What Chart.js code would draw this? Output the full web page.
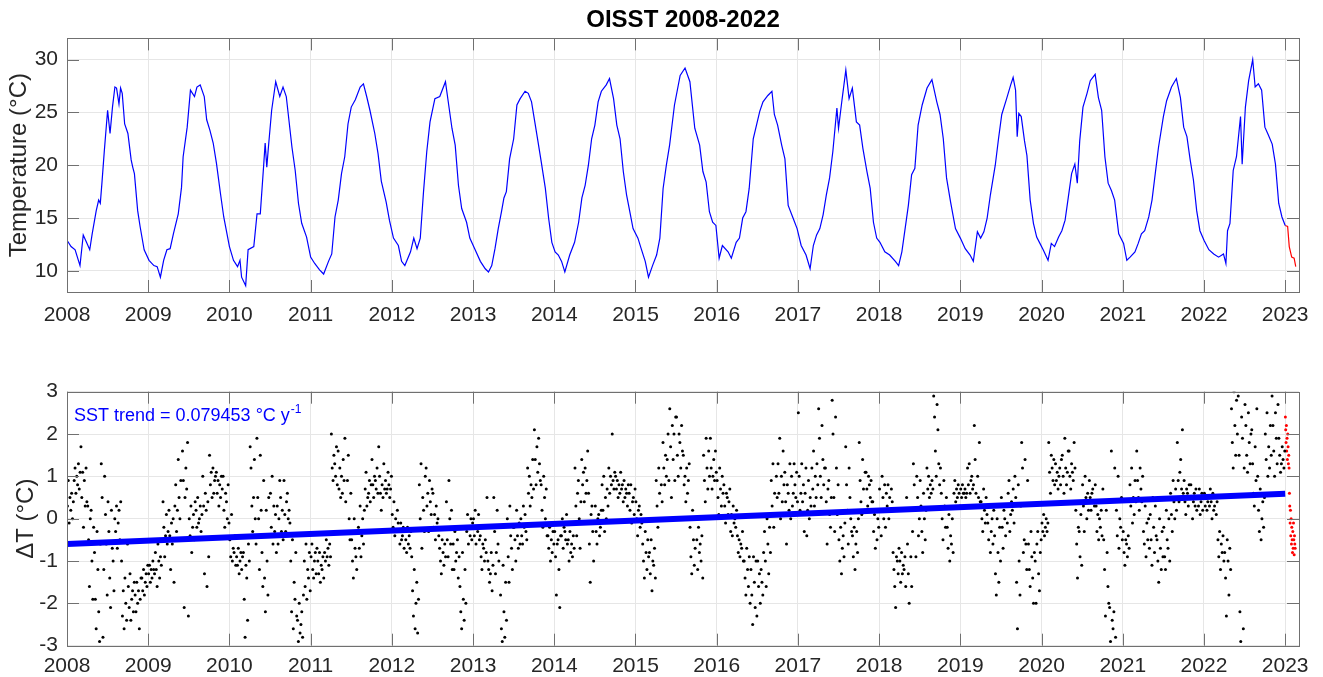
<!DOCTYPE html>
<html>
<head>
<meta charset="UTF-8">
<title>OISST 2008-2022</title>
<script src="https://cdn.jsdelivr.net/npm/chart.js@4.4.0/dist/chart.umd.min.js"></script>
<style>
body { margin: 0; background: #fff; }
.panel { position: absolute; left: 0; width: 1323px; }
#topPanel { top: 0; height: 330px; }
#bottomPanel { top: 370px; height: 307px; }
</style>
</head>
<body>
<!-- 위: 일별 수온 -->
<div class="panel" id="topPanel"><canvas id="sstChart" width="1323" height="330"></canvas></div>
<!-- 아래: 수온 편차 + 추세선 -->
<div class="panel" id="bottomPanel"><canvas id="anomChart" width="1323" height="307"></canvas></div>

<script>
// 눈금
const yearTicks = [2008, 2009, 2010, 2011, 2012, 2013, 2014, 2015, 2016, 2017, 2018, 2019, 2020, 2021, 2022, 2023];
const tempTicks = [10, 15, 20, 25, 30];
const anomTicks = [-3, -2, -1, 0, 1, 2, 3];

// 수온 (°C) - 시간(연 단위) / 값
const sstTime = [
  2008.00,2008.05,2008.10,2008.16,2008.20,2008.24,2008.28,2008.31,2008.36,2008.39,2008.41,2008.43,2008.46,2008.50,2008.53,2008.56,2008.59,2008.61,2008.64,2008.66,2008.68,2008.71,2008.75,2008.79,2008.81,2008.83,2008.87,2008.90,2008.95,
  2009.01,2009.07,2009.11,2009.15,2009.19,2009.23,2009.27,2009.31,2009.37,2009.41,2009.43,2009.48,2009.52,2009.57,2009.60,2009.64,2009.69,2009.72,2009.76,2009.80,2009.84,2009.89,2009.93,2009.97,
  2010.00,2010.05,2010.10,2010.13,2010.15,2010.20,2010.23,2010.30,2010.34,2010.38,2010.42,2010.44,2010.46,2010.48,2010.52,2010.57,2010.62,2010.66,2010.70,2010.77,2010.81,2010.85,2010.89,2010.95,
  2011.00,2011.05,2011.11,2011.16,2011.22,2011.26,2011.30,2011.34,2011.38,2011.42,2011.46,2011.50,2011.55,2011.61,2011.65,2011.69,2011.73,2011.79,2011.83,2011.87,2011.93,2011.97,
  2012.02,2012.08,2012.12,2012.16,2012.23,2012.27,2012.31,2012.35,2012.39,2012.43,2012.47,2012.53,2012.59,2012.66,2012.70,2012.74,2012.78,2012.82,2012.86,2012.92,2012.96,
  2013.02,2013.09,2013.15,2013.19,2013.23,2013.27,2013.31,2013.35,2013.38,2013.41,2013.45,2013.50,2013.54,2013.58,2013.64,2013.68,2013.72,2013.76,2013.80,2013.84,2013.89,2013.93,2013.97,
  2014.01,2014.05,2014.09,2014.13,2014.19,2014.25,2014.30,2014.34,2014.38,2014.42,2014.46,2014.50,2014.54,2014.58,2014.64,2014.68,2014.73,2014.77,2014.81,2014.85,2014.89,2014.93,2014.97,
  2015.03,2015.07,2015.12,2015.16,2015.21,2015.26,2015.30,2015.34,2015.38,2015.42,2015.48,2015.55,2015.61,2015.67,2015.73,2015.79,2015.83,2015.87,2015.91,2015.95,2015.99,
  2016.03,2016.07,2016.14,2016.18,2016.24,2016.28,2016.32,2016.36,2016.40,2016.45,2016.49,2016.53,2016.57,2016.63,2016.68,2016.71,2016.75,2016.80,2016.84,2016.88,2016.94,2016.99,
  2017.04,2017.10,2017.15,2017.19,2017.23,2017.27,2017.31,2017.35,2017.39,2017.43,2017.48,2017.50,2017.54,2017.59,2017.63,2017.67,2017.72,2017.76,2017.80,2017.85,2017.89,2017.93,2017.97,
  2018.01,2018.07,2018.13,2018.20,2018.24,2018.28,2018.32,2018.36,2018.40,2018.44,2018.48,2018.53,2018.59,2018.65,2018.71,2018.75,2018.79,2018.83,2018.88,2018.94,
  2019.00,2019.06,2019.12,2019.16,2019.21,2019.25,2019.29,2019.33,2019.37,2019.43,2019.47,2019.51,2019.57,2019.62,2019.65,2019.68,2019.70,2019.72,2019.75,2019.79,2019.82,2019.86,2019.90,2019.94,2019.98,
  2020.02,2020.08,2020.12,2020.16,2020.21,2020.25,2020.29,2020.33,2020.37,2020.41,2020.44,2020.47,2020.51,2020.56,2020.60,2020.66,2020.70,2020.74,2020.78,2020.82,2020.86,2020.90,2020.95,
  2021.01,2021.05,2021.09,2021.15,2021.19,2021.23,2021.27,2021.32,2021.36,2021.40,2021.44,2021.50,2021.54,2021.60,2021.66,2021.71,2021.75,2021.79,2021.83,2021.87,2021.91,2021.95,
  2022.00,2022.06,2022.12,2022.18,2022.24,2022.27,2022.29,2022.32,2022.36,2022.40,2022.45,2022.47,2022.51,2022.55,2022.60,2022.63,2022.67,2022.71,2022.75,2022.79,2022.84,2022.88,2022.92,2022.96,2023.00
];
const sstTemp = [
  12.9,12.3,12.0,10.5,13.4,12.7,12.0,13.5,15.7,16.7,16.4,18.3,21.4,25.2,23.0,25.5,27.4,27.3,25.8,27.3,26.8,23.9,23.0,20.5,19.8,19.2,15.7,14.2,12.0,
  11.0,10.5,10.4,9.4,11.0,12.0,12.1,13.5,15.4,17.9,20.8,23.6,27.1,26.5,27.4,27.6,26.5,24.3,23.3,22.1,20.2,17.3,15.1,13.5,
  12.3,11.0,10.4,11.0,9.4,8.6,12.0,12.3,15.4,15.4,19.8,22.1,19.8,21.7,25.2,27.9,26.5,27.4,26.5,21.7,19.5,16.4,14.5,13.2,
  11.3,10.7,10.1,9.7,10.9,11.6,15.1,16.7,19.2,20.8,23.9,25.5,26.2,27.4,27.7,26.5,25.2,23.0,21.1,18.5,16.5,14.8,
  13.1,12.4,10.9,10.5,11.8,13.1,12.1,13.1,17.5,21.3,24.1,26.3,26.5,27.9,25.7,23.5,21.9,18.1,15.9,14.6,13.1,
  12.1,10.9,10.2,9.9,10.5,12.1,14.0,15.6,16.9,17.5,20.6,22.5,25.7,26.3,27.0,26.8,26.0,24.1,22.2,20.3,17.8,15.0,12.7,
  11.8,11.5,10.9,9.9,11.5,12.7,14.6,16.9,18.1,20.0,22.5,23.8,26.0,27.0,27.6,28.2,26.3,23.8,22.5,19.4,17.2,15.6,14.0,
  13.1,12.1,10.9,9.4,10.5,11.5,13.1,17.8,20.0,21.9,25.7,28.5,29.2,27.9,23.5,21.9,19.4,18.4,15.6,14.6,14.3,
  11.2,12.4,11.8,11.2,12.7,13.1,15.0,15.6,17.8,22.5,23.8,25.1,26.0,26.6,27.0,24.8,23.8,21.9,20.6,16.2,15.0,14.0,
  12.4,11.5,10.2,12.4,13.4,14.0,15.3,17.2,18.8,21.3,25.4,23.5,26.0,29.0,26.3,27.3,24.1,23.8,21.6,19.4,17.8,14.6,13.1,
  12.7,11.8,11.5,10.9,10.5,11.8,14.0,16.2,19.1,19.7,23.8,25.7,27.3,28.1,26.0,24.8,22.5,18.8,16.5,14.0,
  13.1,12.1,11.5,10.9,13.7,13.1,13.7,15.0,17.2,20.0,22.5,24.8,26.3,27.6,28.3,27.1,22.7,24.9,24.6,22.3,20.9,16.7,14.5,13.2,12.6,
  12.0,11.0,12.6,12.3,13.2,13.8,14.8,17.0,19.2,20.1,18.3,22.3,25.5,26.8,28.0,28.6,26.4,25.2,20.8,18.3,17.6,16.7,13.5,
  12.6,11.0,11.3,11.8,12.6,13.5,13.8,15.1,16.7,19.2,21.7,24.6,26.1,27.4,28.2,26.4,23.6,22.7,20.5,18.6,15.7,13.8,
  12.9,12.0,11.6,11.3,11.6,10.7,13.8,14.5,19.5,20.8,24.6,20.1,25.5,28.0,30.0,27.4,27.7,27.1,23.6,22.9,22.0,20.1,16.4,15.1,14.3
];
// 2023년 (빨간색, 잠정값)
const sstRecentTime = [2023.00, 2023.03, 2023.05, 2023.08, 2023.11, 2023.13];
const sstRecentTemp = [14.3, 14.2, 12.3, 11.3, 11.2, 10.4];

// 수온 편차 ΔT (°C) - 연도별, 1년에 96개 (월 8개)
const samplesPerYear = 96;
const dT2008 = [0.3,0.9,-0.1,0.5,0.2,0.6,0.0,0.4, 0.9,1.2,0.6,1.0,0.8,1.3,0.7,1.1, 1.7,0.5,1.1,-0.2,0.9,0.3,1.2,0.4, 0.3,-0.5,-1.6,0.0,0.2,-1.0,-1.9,-0.2, -0.8,-1.9,-2.6,-0.3,-1.2,-2.2,-2.9,-0.6, 1.3,0.5,-2.8,-1.2,1.0,0.1,-0.6,-1.8, 0.4,-0.3,-1.4,-2.1,0.2,-0.7,-1.0,-1.7, 0.0,-0.3,0.3,-0.7,-0.1,0.2,-0.5,0.4, -1.0,-2.3,-1.7,-2.6,-1.4,-2.0,-2.4,-0.6, -1.6,-2.1,-1.3,-2.4,-1.9,-1.7,-2.2,-1.5, -1.8,-2.2,-1.5,-2.0,-1.7,-2.6,-1.9,-1.4, -1.4,-1.7,-1.2,-1.8,-1.5,-1.3,-1.6,-1.1];
const dT2009 = [-1.3,-1.1,-1.5,-1.2,-1.4,-1.0,-1.2,-1.3, -0.8,-1.2,-1.6,-0.6,-1.0,-1.4,-0.9,-1.1, -0.5,0.4,-0.2,-0.9,-0.4,0.1,-0.6,-0.3, 0.2,-0.4,-1.2,-0.1,-0.6,0.0,-1.5,0.3, 0.8,-0.3,0.2,1.4,0.5,0.0,0.9,-0.5, 1.6,0.9,-2.1,0.5,1.2,0.7,1.8,-2.3, 0.0,-0.4,0.3,-0.8,-0.2,0.1,-0.5,0.4, 0.2,-0.2,0.5,-0.1,0.0,0.3,-0.3,0.1, 1.0,0.3,-1.3,0.6,0.2,-1.6,0.4,-0.9, 1.5,0.8,1.1,0.5,1.2,0.6,0.9,1.0, 1.1,0.6,0.9,0.3,0.8,0.5,1.0,0.7, 1.0,0.2,-0.2,0.6,0.4,0.0,0.8,-0.1];
const dT2010 = [-0.5,-0.9,0.1,-1.0,-0.7,-0.8,-0.4,-1.1, -0.9,-1.1,-0.7,-1.3,-1.0,-0.8,-1.2,-0.9, -0.8,-1.9,-2.8,-1.1,-1.4,-2.4,-0.6,-1.0, 1.7,1.2,0.3,-0.3,0.5,1.4,0.0,-0.6, 1.9,0.5,0.0,-1.2,1.5,0.2,-0.8,-1.6, 0.9,-1.4,-2.2,0.2,-1.0,-1.8,0.5,-0.4, 0.6,-0.2,1.0,-0.6,0.3,-0.3,0.1,-0.8, 0.3,-0.6,0.0,0.9,0.5,-0.3,0.2,-0.5, 0.9,0.1,-0.3,0.4,0.6,0.0,0.2,-0.1, -1.0,-2.2,-0.5,-2.6,-1.5,-1.9,-0.8,-2.3, -2.4,-2.9,-2.0,-2.7,-2.5,-2.2,-2.8,-1.8, -1.0,-1.6,-0.6,-1.9,-1.2,-1.4,-0.8,-1.7];
const dT2011 = [-0.9,-0.6,-1.2,-1.4,-1.0,-0.8,-1.3,-0.7, -1.0,-1.3,-0.8,-1.5,-1.1,-1.2,-0.9,-1.4, -0.8,-1.0,-0.5,-0.9,-0.7,-1.1,-0.6,-0.9, 2.0,1.2,0.9,1.5,1.3,1.0,1.7,0.8, 1.6,0.7,1.2,0.5,1.0,0.6,1.4,0.9, 1.9,0.4,-0.3,0.9,1.5,0.0,-0.5,0.6, -0.5,-1.0,-1.4,0.0,-0.7,-0.9,-1.2,-0.3, -0.2,-0.7,0.3,-0.9,-0.4,0.0,-0.6,0.2, 0.7,1.1,0.3,0.5,0.6,0.9,0.4,0.8, 1.4,0.8,0.5,1.0,0.9,0.7,1.2,0.6, 1.7,1.0,0.6,0.2,0.8,0.5,1.3,0.7, 0.9,0.6,0.7,1.1,0.8,0.5,0.7,1.0];
const dT2012 = [0.1,-0.2,0.4,-0.4,0.0,-0.3,0.2,-0.1, -0.3,-0.6,-0.1,-0.5,-0.4,-0.2,-0.7,-0.3, -0.5,-0.8,-0.2,-0.6,-0.4,-0.7,-0.3,-0.9, -1.7,-2.3,-1.2,-2.6,-2.0,-1.5,-2.7,-1.9, 0.8,0.0,1.3,-0.7,0.5,0.2,-0.3,1.0, 1.2,0.3,0.6,-0.3,0.9,0.4,0.1,0.7, 0.6,-0.2,0.1,-0.5,0.3,-0.1,0.0,-0.4, -0.7,-1.0,-1.3,-0.5,-0.8,-1.1,-0.6,-0.9, 0.4,-0.5,-0.9,0.9,0.0,-0.6,0.2,-1.2, -0.6,-1.2,-0.3,-1.0,-0.8,-0.5,-1.4,-0.9, -1.6,-2.2,-2.6,-0.8,-1.9,-2.4,-1.2,-2.0, -0.3,0.1,-0.6,-0.2,-0.4,0.0,-0.5,-0.1];
const dT2013 = [0.0,-0.4,0.2,-0.6,-0.2,-0.3,0.1,-0.5, -0.4,-0.9,-1.2,-0.6,-0.7,-1.0,-0.5,-0.8, 0.5,-1.0,-1.2,-1.5,-1.3,-0.8,-1.7,-1.1, 0.5,-0.3,-1.3,-0.8,0.2,-0.6,-1.0,-0.2, -1.8,-2.6,-2.9,-1.1,-2.2,-2.8,-1.5,-2.4, 0.0,-0.9,-1.5,0.3,-0.4,-0.7,-1.2,-0.2, -0.2,-0.5,-1.0,0.2,-0.4,-0.7,-0.1,-0.6, 0.0,-0.4,-0.6,0.3,-0.2,0.1,-0.3,-0.5, 1.2,0.6,1.0,0.3,0.8,0.5,1.4,0.7, 2.1,1.4,0.8,1.7,1.1,1.9,1.3,0.9, 0.8,0.2,-0.2,1.0,0.5,0.0,0.7,-0.4, -0.4,-0.7,-0.2,-1.0,-0.5,-0.8,-0.3,-0.6];
const dT2014 = [-0.3,-0.9,-1.8,-0.6,-0.5,-1.2,-2.1,-0.4, -0.4,0.0,-0.7,-0.2,-0.3,-0.5,0.1,-0.6, -0.5,-1.0,-0.3,-0.8,-0.6,-0.9,-0.4,-0.7, 1.2,0.3,-0.4,0.6,0.9,0.0,-0.7,0.4, 1.4,0.8,1.1,0.4,1.2,0.6,0.9,1.6, 0.6,-0.6,-1.5,0.1,0.3,-0.3,-1.0,-0.1, 0.3,-0.3,-0.6,0.0,0.1,-0.4,-0.2,0.2, 0.8,0.2,1.0,-0.3,0.5,0.0,0.7,0.3, 1.2,0.6,1.0,0.8,2.0,0.9,0.7,1.1, 1.0,0.7,0.9,0.5,0.8,0.6,1.1,0.7, 0.8,0.4,0.9,0.5,0.7,0.6,0.3,0.8, 0.6,0.2,0.8,-0.1,0.4,0.5,0.1,0.7];
const dT2015 = [0.4,0.0,-0.4,0.2,0.3,-0.2,0.1,-0.1, -0.6,-1.0,-1.4,-0.3,-0.8,-1.2,-0.5,-0.9, -0.8,-1.3,-0.5,-1.7,-1.0,-1.1,-0.7,-1.4, 0.9,0.3,-0.2,1.2,0.6,0.0,0.8,0.4, 1.8,1.2,0.8,1.5,1.0,1.4,2.0,0.9, 2.6,1.7,0.5,2.2,1.4,2.0,0.9,2.4, 2.4,1.5,1.0,2.0,1.8,1.2,2.2,1.6, 1.5,0.8,1.0,0.4,1.2,0.6,0.9,1.3, -0.2,-0.9,-1.3,0.2,-0.5,-1.1,-0.7,0.0, -0.5,-1.2,-0.2,-0.8,-0.6,-1.0,-0.4,-1.4, 1.5,0.9,0.4,1.9,1.2,0.7,1.6,1.0, 1.9,1.2,0.7,1.0,1.4,0.9,1.6,1.1];
const dT2016 = [0.9,0.5,0.1,1.2,0.7,0.3,1.0,0.6, 0.8,0.3,-0.1,0.6,0.5,0.1,0.4,0.7, -0.3,0.1,-0.4,0.3,-0.1,0.0,-0.2,0.2, -0.4,-0.8,-0.5,-0.9,-0.6,-0.7,-0.3,-1.0, -1.0,-1.4,-1.8,-0.7,-1.2,-1.6,-0.9,-2.0, -1.2,-1.8,-2.5,-0.9,-1.5,-2.1,-1.0,-2.3, -1.0,-1.6,-1.3,-2.0,-1.2,-1.5,-1.8,-0.8, -0.3,-1.0,-1.6,0.0,-0.6,-1.3,-0.2,-0.8, 0.9,0.3,1.3,-0.2,0.6,0.1,1.0,0.5, 1.3,0.6,1.9,0.0,1.0,0.4,1.6,0.8, 1.1,0.4,-0.6,0.8,0.6,0.2,1.3,0.0, 1.0,0.3,0.6,1.3,0.8,0.5,1.1,0.4];
const dT2017 = [2.5,1.0,0.2,0.6,1.3,0.4,0.8,-0.3, 0.6,1.2,-0.4,0.2,0.9,0.0,0.5,0.3, 1.2,0.7,1.6,0.3,1.0,0.5,1.3,0.8, 2.6,1.9,1.0,0.5,2.2,1.4,0.8,1.2, 1.2,0.4,-0.6,0.7,0.9,0.1,-0.2,0.5, 2.8,2.0,0.5,-0.3,2.4,1.2,0.1,0.8, -0.5,-1.0,-0.2,-1.3,-0.7,-0.4,-0.9,-0.1, 1.7,0.8,0.2,-0.6,1.2,0.5,0.0,-0.3, -0.4,-0.9,-0.2,-1.2,-0.6,-0.3,-0.8,0.0, 1.8,0.9,0.4,0.1,1.4,0.7,0.2,1.1, 1.1,0.7,0.3,1.0,0.8,0.5,0.9,0.4, 0.4,-0.3,0.1,-0.7,0.2,-0.5,0.0,-0.2];
const dT2018 = [0.7,0.2,-0.4,1.0,0.5,0.0,0.8,-0.2, 0.6,0.3,0.8,0.0,0.5,0.2,0.7,0.4, -0.8,-1.2,-1.6,-2.1,-0.9,-1.0,-1.3,-0.7, -1.0,-1.5,-0.8,-1.3,-1.1,-1.2,-0.9,-1.6, 0.5,-0.6,-1.3,-2.0,0.2,-0.9,-1.6,-0.3, 1.3,0.8,0.2,-0.9,1.0,0.5,-0.4,0.0, 0.9,0.3,-0.3,-0.8,0.6,0.0,-0.5,0.2, 1.2,0.7,1.0,0.5,0.8,0.6,0.9,0.7, 2.9,2.4,1.6,1.0,2.7,2.1,1.3,0.8, 1.2,0.6,0.0,-0.5,0.9,0.3,-0.2,0.5, -0.2,-0.7,0.1,-1.0,-0.4,-0.6,0.0,-0.8, 0.6,0.9,0.4,0.7,0.5,0.8,0.6,0.3];
const dT2019 = [0.7,0.5,0.8,0.6,0.6,0.7,0.5,0.6, 1.2,0.8,1.3,0.6,0.9,1.0,0.7,0.8, 2.2,1.4,0.6,0.3,1.0,0.5,1.8,0.4, 0.4,0.0,-0.3,0.7,0.2,-0.1,0.5,0.1, -0.1,-0.5,0.3,-0.8,-0.3,0.0,-0.6,0.2, -0.4,-1.3,-1.8,0.0,-0.8,-1.5,-0.2,-1.0, 0.5,-0.2,-0.7,0.2,0.0,-0.4,0.3,-0.1, 0.6,0.9,-0.3,0.1,0.4,0.2,0.7,-0.1, 1.0,0.5,-1.5,-2.6,0.8,-1.0,-1.8,0.3, 1.8,1.2,-0.8,-0.5,1.4,-0.6,-1.2,0.9, -0.6,-1.2,-1.6,-0.3,-0.9,-1.4,-2.0,-0.8, -1.0,-2.0,-0.6,-0.3,-1.3,-1.7,-0.8,-0.5];
const dT2020 = [-0.1,-0.3,0.1,-0.4,-0.2,0.0,-0.3,-0.1, 1.8,1.1,0.6,1.5,1.2,0.9,1.4,0.8, 1.3,0.9,1.1,0.7,1.0,1.2,0.8,1.4, 1.5,1.0,0.6,1.9,1.2,0.8,1.1,1.6, 1.6,1.0,0.7,1.3,1.1,0.9,1.8,1.2, 0.2,-0.6,-1.4,-0.2,-0.3,-0.9,0.1,-1.1, 0.8,0.3,-0.3,1.0,0.5,0.0,0.6,0.2, 0.9,0.5,0.2,0.6,0.7,0.4,0.3,0.8, 0.3,-0.3,0.1,-0.5,0.0,-0.2,0.2,-0.4, 0.7,-0.5,-1.2,-2.3,0.2,-0.8,-1.6,-2.0, -2.1,-2.9,1.6,-2.4,-2.6,-2.2,1.2,-2.8, 0.2,-0.4,1.0,-0.7,0.0,-0.2,0.5,-0.5];
const dT2021 = [-0.3,-0.8,-1.1,-0.5,-0.6,-0.9,-0.4,-0.7, 0.8,0.3,1.2,-0.1,0.5,0.1,0.9,0.4, 1.6,0.9,0.5,0.2,1.2,0.7,0.4,1.0, -0.3,-0.6,0.3,-0.9,-0.1,-0.5,0.0,-0.7, 0.1,-0.5,-1.1,0.5,-0.2,-0.8,0.3,-0.4, -0.5,-1.0,-1.5,0.0,-0.7,-1.2,-0.3,-0.9, -0.2,-0.9,-1.2,0.2,-0.5,-0.7,0.0,-1.0, 0.6,0.1,-0.3,0.9,0.4,0.0,0.7,0.2, 1.8,0.9,0.4,1.1,1.4,0.7,2.1,0.6, 0.9,0.4,0.1,0.7,0.6,0.3,0.8,0.5, 0.8,0.5,0.0,0.4,0.6,0.3,0.7,0.2, 0.5,0.3,0.7,0.1,0.4,0.6,0.2,0.5];
const dT2022 = [0.6,0.3,0.5,0.2,0.4,0.5,0.3,0.7, 0.4,0.0,0.6,0.2,0.3,0.5,0.1,0.4, -0.5,-0.9,-0.3,-1.2,-0.6,-0.8,-0.4,-1.0, -0.8,-1.4,-2.3,-0.5,-1.0,-1.8,-0.7,-1.2, 2.6,1.8,1.2,3.0,2.2,1.5,2.8,2.0, 2.9,1.5,-2.2,-2.9,2.4,1.9,-2.6,1.2, 2.7,2.2,1.5,1.1,2.5,1.8,1.3,2.0, 2.1,1.3,0.6,0.3,1.7,0.9,2.6,1.0, 0.2,-0.3,0.7,-0.5,0.0,0.4,-0.2,0.5, 2.0,1.4,2.5,1.0,1.7,1.2,2.2,1.5, 2.9,2.2,1.6,1.0,2.5,1.9,1.3,2.7, 1.9,1.5,1.1,1.3,1.7,1.4,1.2,1.6];
// 2023년 편차 (빨간색), 1년에 240개 간격
const recentPerYear = 240;
const dT2023 = [2.4,2.1,1.8,2.2,1.6,1.9,1.4,2.0,1.7,1.3,1.5,1.2, 0.6,0.3,-0.1,0.2,-0.4,0.0,-0.6,-0.2,-0.5,-0.8,-0.3,-0.7,-0.1,-0.5,-0.85,-0.4,-0.6,-0.7];

// 추세선 (0.079453 °C/yr)
const trendYear = [2008, 2023];
const trendValue = [-0.6, 0.59];

const fontFam = 'Liberation Sans, Arial, Helvetica, sans-serif';
Chart.defaults.font.family = fontFam;
Chart.defaults.color = '#262626';
Chart.defaults.animation = false;

const gridColor = '#e6e6e6';
const boxColor = '#707070';

// MATLAB 스타일 테두리 + 안쪽 눈금
const framePlugin = {
	id: 'frame',
	afterDraw(chart) {
		const {ctx, chartArea: a, scales} = chart;
		ctx.save();
		ctx.strokeStyle = boxColor;
		ctx.lineWidth = 1;
		ctx.beginPath();
		scales.x.ticks.forEach(t => {
			const px = Math.round(scales.x.getPixelForValue(t.value)) + 0.5;
			ctx.moveTo(px, a.bottom); ctx.lineTo(px, a.bottom - 12);
			ctx.moveTo(px, a.top); ctx.lineTo(px, a.top + 12);
		});
		scales.y.ticks.forEach(t => {
			const py = Math.round(scales.y.getPixelForValue(t.value)) + 0.5;
			ctx.moveTo(a.left, py); ctx.lineTo(a.left + 12, py);
			ctx.moveTo(a.right, py); ctx.lineTo(a.right - 12, py);
		});
		ctx.stroke();
		ctx.strokeRect(Math.round(a.left) + 0.5, Math.round(a.top) + 0.5, Math.round(a.width), Math.round(a.height));
		ctx.restore();
	}
};

// 위 그래프 제목
const titlePlugin = {
	id: 'panelTitle',
	afterDraw(chart) {
		const {ctx, chartArea: a} = chart;
		ctx.save();
		ctx.font = 'bold 24px ' + fontFam;
		ctx.fillStyle = '#000';
		ctx.textAlign = 'center';
		ctx.textBaseline = 'middle';
		ctx.fillText('OISST 2008-2022', (a.left + a.right) / 2, 20);
		ctx.restore();
	}
};

// 추세 문구
const trendTextPlugin = {
	id: 'trendText',
	afterDraw(chart) {
		const ctx = chart.ctx;
		const main = 'SST trend = 0.079453 \u00B0C y';
		ctx.save();
		ctx.fillStyle = '#0000ff';
		ctx.textBaseline = 'alphabetic';
		ctx.font = '18px ' + fontFam;
		ctx.fillText(main, 74, 51);
		const w = ctx.measureText(main).width;
		ctx.font = '12px ' + fontFam;
		ctx.fillText('-1', 74 + w + 1, 43);
		ctx.restore();
	}
};

function xAxis(height, pad) {
	return {
		type: 'linear', min: 2008, max: 2023.17,
		afterBuildTicks: s => { s.ticks = yearTicks.map(v => ({value: v})); },
		afterFit: s => { s.height = height; },
		grid: {color: gridColor, drawTicks: false},
		border: {display: false},
		ticks: {font: {size: 21}, padding: pad, maxRotation: 0, autoSkip: false, callback: v => String(v)}
	};
}

function yAxis(min, max, tickList, titleText, titlePad) {
	return {
		min: min, max: max,
		afterBuildTicks: s => { s.ticks = tickList.map(v => ({value: v})); },
		afterFit: s => { s.width = 67; },
		grid: {color: gridColor, drawTicks: false},
		border: {display: false},
		ticks: {font: {size: 21}, padding: 9},
		title: {display: true, text: titleText, font: {size: 24}, color: '#262626', padding: {top: titlePad, bottom: 0}}
	};
}

// 위 그래프 - 일별 수온
new Chart(document.getElementById('sstChart'), {
	type: 'scatter',
	data: {
		datasets: [{
			data: sstTime.map((t, i) => ({x: t, y: sstTemp[i]})),
			showLine: true, borderColor: '#0000ff', borderWidth: 1.2, pointRadius: 0
		}, {
			data: sstRecentTime.map((t, i) => ({x: t, y: sstRecentTemp[i]})),
			showLine: true, borderColor: '#ff0000', borderWidth: 1.2, pointRadius: 0
		}]
	},
	options: {
		responsive: false,
		layout: {padding: {top: 38.4, right: 24, left: 0, bottom: 0}},
		plugins: {legend: {display: false}, tooltip: {enabled: false}},
		scales: {
			x: xAxis(38, 11),
			y: yAxis(8, 32, tempTicks, 'Temperature (\u00B0C)', 4.6)
		}
	},
	plugins: [framePlugin, titlePlugin]
});

// 아래 그래프 - 편차 점 + 추세선
const anomYears = [dT2008, dT2009, dT2010, dT2011, dT2012, dT2013, dT2014, dT2015, dT2016, dT2017, dT2018, dT2019, dT2020, dT2021, dT2022];
const anomPoints = [];
anomYears.forEach((vals, j) => {
	vals.forEach((v, k) => anomPoints.push({x: 2008 + j + (k + 0.5) / samplesPerYear, y: v}));
});
const recentPoints = dT2023.map((v, k) => ({x: 2023 + (k + 0.5) / recentPerYear, y: v}));

new Chart(document.getElementById('anomChart'), {
	type: 'scatter',
	data: {
		datasets: [{
			data: trendYear.map((t, i) => ({x: t, y: trendValue[i]})),
			showLine: true, borderColor: '#0000ff', borderWidth: 6, pointRadius: 0, order: 0
		}, {
			data: anomPoints,
			backgroundColor: '#000', borderWidth: 0, pointRadius: 1.5, order: 1
		}, {
			data: recentPoints,
			backgroundColor: '#ff0000', borderWidth: 0, pointRadius: 1.5, order: 1
		}]
	},
	options: {
		responsive: false,
		layout: {padding: {top: 21.7, right: 24, left: 0, bottom: 0}},
		plugins: {legend: {display: false}, tooltip: {enabled: false}},
		scales: {
			x: xAxis(31.3, 8),
			y: yAxis(-3, 3, anomTicks, '\u0394T (\u00B0C)', 11.6)
		}
	},
	plugins: [framePlugin, trendTextPlugin]
});
</script>
</body>
</html>
